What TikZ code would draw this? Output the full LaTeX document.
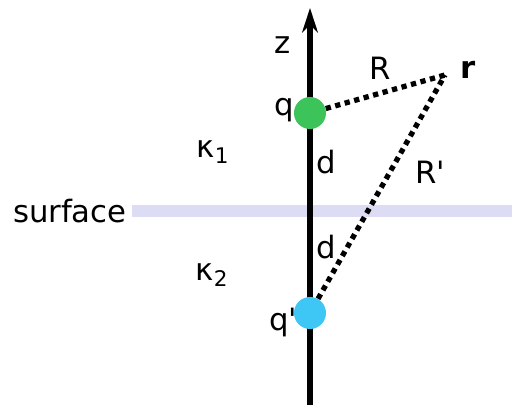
\documentclass[tikz,border=0pt]{standalone}
\usepackage{fontspec}
\setmainfont{DejaVu Sans}
\usepackage{xcolor}
\usepackage{tikz}
\usetikzlibrary{positioning,arrows.meta}

\definecolor{chargegreen}{RGB}{60,195,90}
\definecolor{chargeblue}{RGB}{62,198,245}
\definecolor{surfacelav}{RGB}{220,220,245}

\tikzset{
	charge/.style={circle,inner sep=0pt,minimum size=0.64cm},
	lbl/.style={font=\fontsize{17.5}{21}\selectfont,inner sep=0pt},
	dist/.style={line width=3pt,dash pattern=on 3pt off 2.6pt}
}

\begin{document}
\begin{tikzpicture}[x=0.02cm,y=0.02cm]
			\useasboundingbox (0,0) rectangle (512,409);
			
			% surface
			\coordinate (s1) at (132,198);
			\coordinate (s2) at (512,198);
			\draw[surfacelav,line width=6.8pt] (s1) -- (s2);
			\node[lbl,anchor=east] (surf) at (127,198) {surface};
			
			% z axis
			\coordinate (bot) at (310,4);
			\coordinate (top) at (310,401);
			\draw[line width=3pt,-{Stealth[length=14pt,width=9pt]}] (bot) -- (top);
			\node[lbl] (z) at (283,364) {z};
			
			% charges and point
			\node[charge,fill=chargegreen] (q) at (310,296) {};
			\node[charge,fill=chargeblue] (qp) at (310,96) {};
			\coordinate (r) at (445,334);
			
			\draw[dist] (q) -- (r);
			\draw[dist] (qp) -- (r);
			
			% labels
			\node[lbl] (rlab) at (468,339) {\textbf{r}};
			\node[lbl] (Rlab) at (380,341) {R};
			\node[lbl] (Rplab) at (430,237) {R\textquotesingle};
			\node[lbl] (qlab) at (284,299) {q};
			\node[lbl] (qplab) at (283,87) {q\textquotesingle};
			\node[lbl] (d1) at (326,247) {d};
			\node[lbl] (d2) at (326,162) {d};
			\node[lbl] (k1) at (213,257) {κ\textsubscript{1}};
			\node[lbl] (k2) at (212,134) {κ\textsubscript{2}};
			
		\end{tikzpicture}
\end{document}
